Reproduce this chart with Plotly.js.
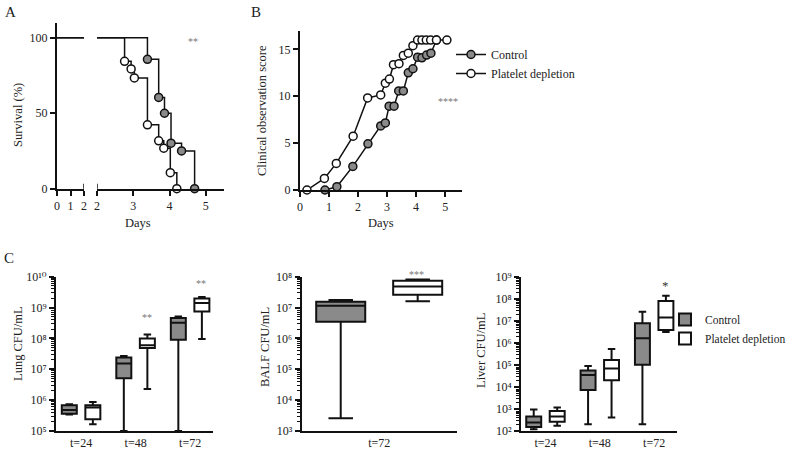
<!DOCTYPE html>
<html><head><meta charset="utf-8">
<script src="https://cdn.plot.ly/plotly-3.0.1.min.js"></script>
<style>html,body{margin:0;padding:0;background:#fff;overflow:hidden;width:788px;height:450px}</style>
</head><body>
<div id="chart" style="width:788px;height:450px"></div>
<script>
// ---------- Panel A: survival (%) ----------
const survDaysControl  = [0, 3.39, 3.70, 3.86, 4.04, 4.33, 4.69];
const survControl      = [100, 85.7, 60.5, 50, 30.2, 25, 0];
const survDaysPlatelet = [0, 2.76, 2.94, 3.03, 3.39, 3.70, 3.84, 4.02, 4.20];
const survPlatelet     = [100, 84.4, 79.4, 73.4, 42.3, 31.7, 26.8, 10.6, 0];
const survTicksLeft  = [0, 1, 2];
const survTicksRight = [2, 3, 4, 5];
const survTicksY     = [0, 50, 100];

// ---------- Panel B: clinical observation score ----------
const scoreDaysControl = [0.86, 1.27, 1.82, 2.34, 2.78, 2.94, 3.07, 3.24, 3.40, 3.56, 3.73, 3.89, 4.05, 4.20, 4.36, 4.51, 4.70];
const scoreControl     = [0, 0.35, 2.52, 4.93, 6.84, 7.16, 8.94, 8.94, 10.57, 10.57, 12.5, 12.94, 14.18, 14.1, 14.4, 14.6, 16];
const scoreDaysPlatelet = [0.24, 0.84, 1.25, 1.83, 2.33, 2.78, 2.94, 3.08, 3.22, 3.41, 3.56, 3.73, 3.89, 4.05, 4.20, 4.35, 4.50, 4.70, 5.06];
const scorePlatelet     = [0, 1.24, 2.84, 5.74, 9.82, 10.14, 11.4, 11.84, 13.37, 13.48, 14.36, 14.6, 15.4, 16, 16, 16, 16, 16, 16];

// ---------- Panel C: CFU/mL box statistics ----------
const timeCats = ['t=24', 't=48', 't=72'];
const balfCats = ['t=72'];
const lungTicks = [1e5, 1e6, 1e7, 1e8, 1e9, 1e10];
const lungTickText = ['10⁵', '10⁶', '10⁷', '10⁸', '10⁹', '10¹⁰'];
const balfTicks = [1e3, 1e4, 1e5, 1e6, 1e7, 1e8];
const balfTickText = ['10³', '10⁴', '10⁵', '10⁶', '10⁷', '10⁸'];
const liverTicks = [1e2, 1e3, 1e4, 1e5, 1e6, 1e7, 1e8, 1e9];
const liverTickText = ['10²', '10³', '10⁴', '10⁵', '10⁶', '10⁷', '10⁸', '10⁹'];
// Lung
const lungCtrlLow = [3.4e5, 1e5, 1e5];
const lungCtrlQ1  = [3.6e5, 5.1e6, 9.1e7];
const lungCtrlMed = [4.8e5, 1.55e7, 3.2e8];
const lungCtrlQ3  = [6.8e5, 2.4e7, 4.6e8];
const lungCtrlHigh= [7.4e5, 2.7e7, 5.1e8];
const lungPltLow  = [1.66e5, 2.3e6, 9.5e7];
const lungPltQ1   = [2.4e5, 4.9e7, 7.4e8];
const lungPltMed  = [5.75e5, 6.0e7, 1.4e9];
const lungPltQ3   = [6.8e5, 1.0e8, 1.95e9];
const lungPltHigh = [8.7e5, 1.35e8, 2.2e9];
// BALF
const balfCtrlLow = [2.6e3], balfCtrlQ1 = [3.5e6], balfCtrlMed = [1.15e7], balfCtrlQ3 = [1.55e7], balfCtrlHigh = [1.75e7];
const balfPltLow  = [1.6e7], balfPltQ1  = [2.6e7], balfPltMed  = [4.8e7],  balfPltQ3  = [7.4e7],  balfPltHigh  = [8.1e7];
// Liver
const livCtrlLow = [1.2e2, 2.0e2, 2.0e2];
const livCtrlQ1  = [1.5e2, 7.2e3, 1.0e5];
const livCtrlMed = [2.4e2, 3.5e4, 1.6e6];
const livCtrlQ3  = [4.5e2, 5.5e4, 7.8e6];
const livCtrlHigh= [9.5e2, 8.9e4, 2.6e7];
const livPltLow  = [1.75e2, 4.1e2, 3.1e6];
const livPltQ1   = [2.6e2, 2.0e4, 3.8e6];
const livPltMed  = [4.5e2, 6.9e4, 1.4e7];
const livPltQ3   = [8.1e2, 1.66e5, 7.9e7];
const livPltHigh = [1.17e3, 5.2e5, 1.35e8];

const GREY = '#8a8a8a';
const INK = '#111';
const FONT = '"Liberation Serif", "Times New Roman", "DejaVu Serif", serif';

const traces = [];
function survLine(days, surv, xa) {
  return {x: days, y: surv, xaxis: xa, yaxis: 'y', type: 'scatter', mode: 'lines',
    line: {shape: 'hv', color: INK, width: 1.5}, showlegend: false, hoverinfo: 'skip'};
}
function survMarks(days, surv, fill) {
  return {x: days.slice(1), y: surv.slice(1), xaxis: 'x2', yaxis: 'y', type: 'scatter', mode: 'markers',
    cliponaxis: false, marker: {size: 8, color: fill, line: {color: INK, width: 1.5}}, showlegend: false};
}
traces.push(survLine(survDaysControl, survControl, 'x'));
traces.push(survLine(survDaysControl, survControl, 'x2'));
traces.push(survLine(survDaysPlatelet, survPlatelet, 'x'));
traces.push(survLine(survDaysPlatelet, survPlatelet, 'x2'));
traces.push(survMarks(survDaysControl, survControl, GREY));
traces.push(survMarks(survDaysPlatelet, survPlatelet, '#fff'));

traces.push({x: scoreDaysControl, y: scoreControl, xaxis: 'x3', yaxis: 'y3', type: 'scatter', mode: 'lines+markers',
  name: 'Control', cliponaxis: false, legend: 'legend',
  line: {color: INK, width: 1.5}, marker: {size: 8, color: GREY, line: {color: INK, width: 1.5}}});
traces.push({x: scoreDaysPlatelet, y: scorePlatelet, xaxis: 'x3', yaxis: 'y3', type: 'scatter', mode: 'lines+markers',
  name: 'Platelet depletion', cliponaxis: false, legend: 'legend',
  line: {color: INK, width: 1.5}, marker: {size: 8, color: '#fff', line: {color: INK, width: 1.5}}});

function box(cats, lo, q1, med, q3, hi, fill, name, xa, ya, show, panel, grp) {
  return {type: 'box', x: cats, lowerfence: lo, q1: q1, median: med, q3: q3, upperfence: hi,
    xaxis: xa, yaxis: ya, name: name, fillcolor: fill, line: {color: INK, width: 2},
    alignmentgroup: panel, offsetgroup: grp,
    whiskerwidth: 0.5, showlegend: show, legend: 'legend2', legendgroup: name, hoverinfo: 'skip'};
}
traces.push(box(timeCats, lungCtrlLow, lungCtrlQ1, lungCtrlMed, lungCtrlQ3, lungCtrlHigh, GREY, 'Control', 'x4', 'y4', true, 'lung', 'c'));
traces.push(box(timeCats, lungPltLow, lungPltQ1, lungPltMed, lungPltQ3, lungPltHigh, '#fff', 'Platelet depletion', 'x4', 'y4', true, 'lung', 'p'));
traces.push(box(balfCats, balfCtrlLow, balfCtrlQ1, balfCtrlMed, balfCtrlQ3, balfCtrlHigh, GREY, 'Control', 'x5', 'y5', false, 'balf', 'c'));
traces.push(box(balfCats, balfPltLow, balfPltQ1, balfPltMed, balfPltQ3, balfPltHigh, '#fff', 'Platelet depletion', 'x5', 'y5', false, 'balf', 'p'));
traces.push(box(timeCats, livCtrlLow, livCtrlQ1, livCtrlMed, livCtrlQ3, livCtrlHigh, GREY, 'Control', 'x6', 'y6', false, 'liver', 'c'));
traces.push(box(timeCats, livPltLow, livPltQ1, livPltMed, livPltQ3, livPltHigh, '#fff', 'Platelet depletion', 'x6', 'y6', false, 'liver', 'p'));

const W = 788, H = 450;
const px = v => v / W;
const py = v => 1 - v / H;
const tickfont = {family: FONT, size: 12, color: '#222'};
const base = {showline: true, linecolor: INK, linewidth: 2, ticks: 'outside', ticklen: 5, tickwidth: 1.5,
  tickcolor: INK, showgrid: false, zeroline: false, tickfont: tickfont, fixedrange: true, automargin: false};
const logBase = Object.assign({}, base, {type: 'log', tickmode: 'array',
  minor: {ticks: 'outside', ticklen: 3, tickwidth: 1, tickcolor: INK, dtick: 'D1'}});
const catBase = Object.assign({}, base, {type: 'category', ticks: '', ticklen: 0});

function note(text, x, y, size, color, angle) {
  return {text: text, xref: 'paper', yref: 'paper', x: px(x), y: py(y), xanchor: 'center', yanchor: 'middle',
    showarrow: false, textangle: angle || 0, font: {size: size, family: FONT, color: color || '#222'}};
}

const layout = {
  width: W, height: H, autosize: false, margin: {l: 0, r: 0, t: 0, b: 0, pad: 0, autoexpand: false},
  paper_bgcolor: '#fff', plot_bgcolor: 'rgba(0,0,0,0)',
  font: {family: FONT, size: 12, color: '#222'},
  boxmode: 'group', boxgap: 0.136, boxgroupgap: 0.363,
  xaxis:  Object.assign({}, base, {domain: [px(57), px(84)], range: [0, 2], tickvals: survTicksLeft, anchor: 'y'}),
  xaxis2: Object.assign({}, base, {domain: [px(97), px(224)], range: [2, 5.5], tickvals: survTicksRight, anchor: 'y'}),
  yaxis:  Object.assign({}, base, {domain: [py(188.7), py(22.7)], range: [0, 110], tickvals: survTicksY, anchor: 'x'}),
  xaxis3: Object.assign({}, base, {domain: [px(300), px(461.7)], range: [0, 5.57], dtick: 1, anchor: 'y3'}),
  yaxis3: Object.assign({}, base, {domain: [py(190), py(30.7)], range: [0, 17], dtick: 5, anchor: 'x3'}),
  xaxis4: Object.assign({}, catBase, {domain: [px(56), px(213)], range: [-0.46, 2.42], anchor: 'y4'}),
  yaxis4: Object.assign({}, logBase, {domain: [py(431), py(276.7)], range: [5, 10], anchor: 'x4',
            tickvals: lungTicks, ticktext: lungTickText}),
  xaxis5: Object.assign({}, catBase, {domain: [px(301.7), px(456.7)], range: [-0.435, 0.435], anchor: 'y5'}),
  yaxis5: Object.assign({}, logBase, {domain: [py(431), py(276.7)], range: [3, 8], anchor: 'x5',
            tickvals: balfTicks, ticktext: balfTickText}),
  xaxis6: Object.assign({}, catBase, {domain: [px(521), px(677)], range: [-0.45, 2.42], anchor: 'y6'}),
  yaxis6: Object.assign({}, logBase, {domain: [py(431), py(276.7)], range: [2, 9], anchor: 'x6',
            tickvals: liverTicks, ticktext: liverTickText}),
  legend:  {x: px(451), y: py(40), xanchor: 'left', yanchor: 'top', bgcolor: 'rgba(0,0,0,0)',
            font: {family: FONT, size: 12, color: '#222'}, itemwidth: 30, tracegroupgap: 0},
  legend2: {x: px(665), y: py(305), xanchor: 'left', yanchor: 'top', bgcolor: 'rgba(0,0,0,0)',
            font: {family: FONT, size: 11.5, color: '#222'}, itemwidth: 30, tracegroupgap: 0},
  shapes: [
    {type: 'line', xref: 'x', yref: 'y', x0: 2, x1: 2, ysizemode: 'pixel', yanchor: 0, y0: -5, y1: 5, line: {color: INK, width: 1.5}},
    {type: 'line', xref: 'x2', yref: 'y', x0: 2, x1: 2, ysizemode: 'pixel', yanchor: 0, y0: -5, y1: 5, line: {color: INK, width: 1.5}}
  ],
  annotations: [
    note('A', 10, 12, 15),
    note('B', 256, 12, 15),
    note('C', 9, 258, 15),
    note('Survival (%)', 18, 115, 12.5, '#222', -90),
    note('Days', 138, 223, 12.5),
    note('Clinical observation score', 262, 111, 12.5, '#222', -90),
    note('Days', 381, 223, 12.5),
    note('Lung CFU/mL', 18, 344, 12.5, '#222', -90),
    note('BALF CFU/mL', 265, 347, 12.5, '#222', -90),
    note('Liver CFU/mL', 481, 351, 12.5, '#222', -90),
    note('**', 193, 41, 10, '#777'),
    note('****', 448, 101, 10, '#777'),
    note('**', 146.5, 317, 10, '#777'),
    note('**', 200.5, 283, 10, '#777'),
    note('***', 417, 274, 10, '#777'),
    note('*', 665.5, 285, 13, '#333')
  ]
};

Plotly.newPlot('chart', traces, layout, {displayModeBar: false, responsive: false});
</script>
</body></html>
